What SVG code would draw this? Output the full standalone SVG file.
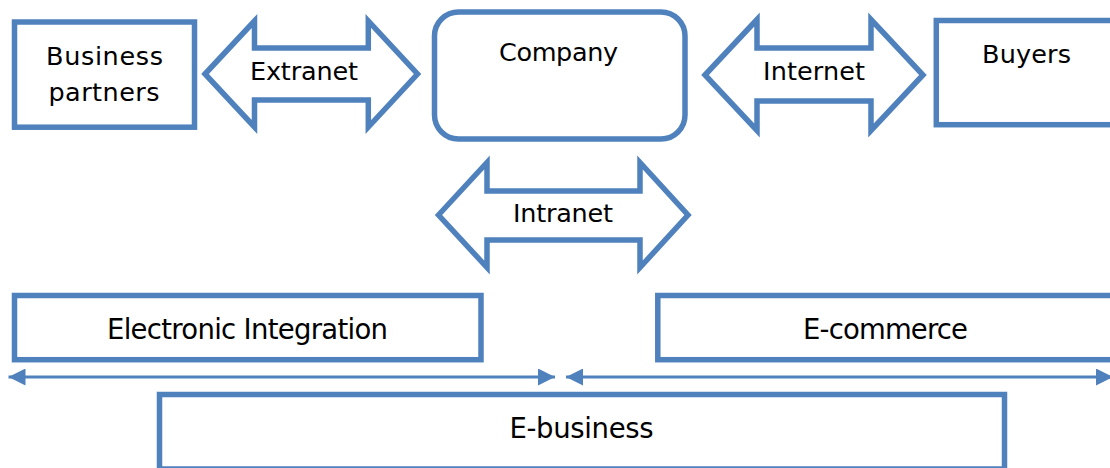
<svg xmlns="http://www.w3.org/2000/svg" width="1110" height="468" viewBox="0 0 1110 468">
  <style>
    .box { fill: #ffffff; stroke: #4F81BD; stroke-width: 5.5; }
    .blk { fill: #ffffff; stroke: #4F81BD; stroke-width: 5.5; stroke-linejoin: miter; stroke-miterlimit: 10; }
    .ln { fill: none; stroke: #4F81BD; stroke-width: 3; }
    .t { font-family: "DejaVu Sans", "Liberation Sans", sans-serif; font-size: 25.5px; fill: #000000; text-anchor: middle; }
    .tb { font-family: "DejaVu Sans", "Liberation Sans", sans-serif; font-size: 27.5px; fill: #000000; text-anchor: middle; }
  </style>
  <defs>
    <marker id="ah" markerUnits="userSpaceOnUse" markerWidth="17" markerHeight="17" refX="17" refY="8.5" orient="auto-start-reverse" viewBox="0 0 17 17">
      <path d="M0,0 L17,8.5 L0,17 Z" fill="#4F81BD"/>
    </marker>
  </defs>
  <rect width="1110" height="468" fill="#ffffff"/>

  <g id="connectors">
    <g id="extranet">
      <path class="blk" d="M205,74 L254.5,21 L254.5,48 L368.3,48 L368.3,21 L417.5,74 L368.3,127 L368.3,100 L254.5,100 L254.5,127 Z"/>
      <text class="t" x="304" y="80" textLength="108" lengthAdjust="spacing">Extranet</text>
    </g>
    <g id="internet">
      <path class="blk" d="M705,75 L757,19.5 L757,48 L871,48 L871,19.5 L923,75 L871,130.5 L871,101 L757,101 L757,130.5 Z"/>
      <text class="t" x="814" y="80" textLength="102" lengthAdjust="spacing">Internet</text>
    </g>
    <g id="intranet">
      <path class="blk" d="M438.5,215 L487,162.5 L487,191 L640,191 L640,162.5 L688,215 L640,267.5 L640,240 L487,240 L487,267.5 Z"/>
      <text class="t" x="563" y="222" textLength="100" lengthAdjust="spacing">Intranet</text>
    </g>
    <line id="ei-span" class="ln" x1="8.5" y1="377" x2="555" y2="377" marker-start="url(#ah)" marker-end="url(#ah)"/>
    <line id="ec-span" class="ln" x1="566" y1="377" x2="1113" y2="377" marker-start="url(#ah)" marker-end="url(#ah)"/>
  </g>

  <g id="business-partners">
    <rect class="box" x="14.5" y="22" width="180" height="105.2"/>
    <text class="t" x="104.5" y="65" textLength="117" lengthAdjust="spacing">Business</text>
    <text class="t" x="104" y="101" textLength="111" lengthAdjust="spacing">partners</text>
  </g>

  <g id="company">
    <rect class="box" x="434.5" y="12" width="250.5" height="127" rx="24" ry="24"/>
    <text class="t" x="558.5" y="61" textLength="119" lengthAdjust="spacing">Company</text>
  </g>

  <g id="buyers">
    <rect class="box" x="936.3" y="20.5" width="190" height="104.2"/>
    <text class="t" x="1026.5" y="63" textLength="89" lengthAdjust="spacing">Buyers</text>
  </g>

  <g id="electronic-integration">
    <rect class="box" x="14.5" y="295.5" width="466.5" height="64.2"/>
    <text class="tb" x="247.5" y="339" textLength="281" lengthAdjust="spacing">Electronic Integration</text>
  </g>

  <g id="e-commerce">
    <rect class="box" x="657.8" y="295.5" width="470" height="64.2"/>
    <text class="tb" x="885.5" y="339" textLength="165" lengthAdjust="spacing">E-commerce</text>
  </g>

  <g id="e-business">
    <rect class="box" x="159.5" y="394.5" width="845" height="74.5"/>
    <text class="tb" x="581.5" y="438" textLength="144" lengthAdjust="spacing">E-business</text>
  </g>
</svg>
